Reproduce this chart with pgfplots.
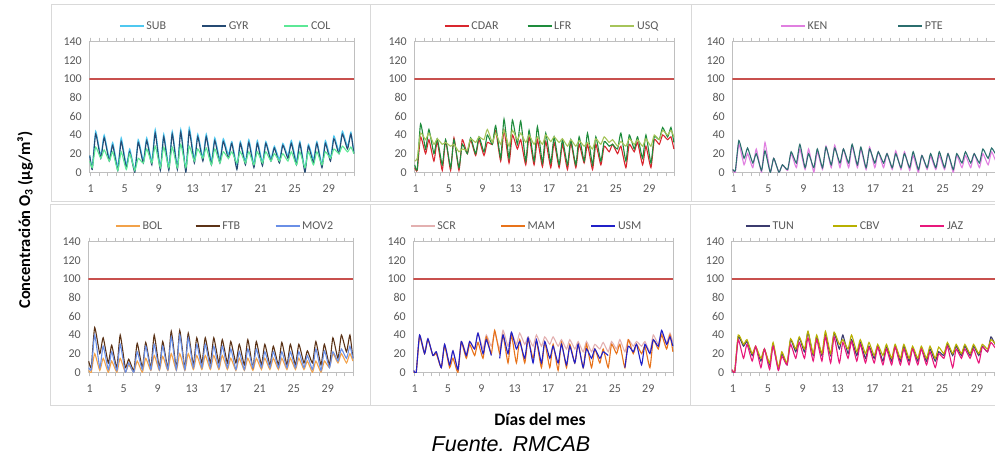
\documentclass[border=0pt]{standalone}
\usepackage{fontspec}
\setmainfont{Carlito}
\newfontfamily\arialfont{Liberation Sans}
\usepackage{pgfplots}
\pgfplotsset{compat=1.18}
\usepackage{pgfplotstable}

\definecolor{cSUB}{HTML}{4FC8F0}
\definecolor{cGYR}{HTML}{254A73}
\definecolor{cCOL}{HTML}{5CE896}
\definecolor{cCDAR}{HTML}{D9262E}
\definecolor{cLFR}{HTML}{1E8C3C}
\definecolor{cUSQ}{HTML}{A6C45A}
\definecolor{cKEN}{HTML}{E07FE0}
\definecolor{cPTE}{HTML}{2B6E6E}
\definecolor{cBOL}{HTML}{F2A24A}
\definecolor{cFTB}{HTML}{5C3317}
\definecolor{cMOV}{HTML}{6A8FE6}
\definecolor{cSCR}{HTML}{E3B0B0}
\definecolor{cMAM}{HTML}{E8731A}
\definecolor{cUSM}{HTML}{2020C8}
\definecolor{cTUN}{HTML}{3B3B6E}
\definecolor{cCBV}{HTML}{B8B000}
\definecolor{cJAZ}{HTML}{E8187C}
\definecolor{limitc}{HTML}{C8504D}
\definecolor{axgrey}{HTML}{BFBFBF}
\definecolor{boxgrey}{HTML}{D9D9D9}
\definecolor{txtgrey}{HTML}{595959}

\pgfplotstableread{
x a b c
0.9 18 18 12
1.2 6 3 5
1.6 44 41 27
2.2 18 15 15
2.6 40 37 24
3.2 15 12 12
3.6 32 29 22
4.2 6 2 2
4.6 37 33 22
5.2 8 5 3
5.6 25 22 20
6.2 3 0 2
6.6 35 32 15
7.2 13 10 10
7.6 37 34 25
8.2 12 8 10
8.6 46 42 28
9.2 6 2 5
9.6 41 38 27
10.2 6 2 5
10.6 44 41 27
11.2 7 3 5
11.6 46 43 30
12.2 4 0 5
12.6 48 44 28
13.2 14 10 12
13.6 41 38 25
14.2 16 12 15
14.6 41 38 26
15.2 12 8 8
15.6 37 34 25
16.2 14 10 10
16.6 36 33 22
17.2 19 15 15
17.6 33 31 22
18.2 8 3 10
18.6 33 31 22
19.2 12 8 10
19.6 35 32 22
20.2 9 5 8
20.6 34 31 22
21.2 11 7 10
21.6 33 31 22
22.2 15 12 12
22.6 28 26 20
23.2 14 10 12
23.6 31 29 20
24.2 18 15 12
24.6 34 31 22
25.2 12 8 8
25.6 33 31 22
26.2 4 0 5
26.6 30 28 22
27.2 14 10 8
27.6 33 31 22
28.2 9 5 8
28.6 34 31 22
29.2 16 12 15
29.6 39 36 25
30.2 23 20 20
30.6 44 41 28
31.2 28 25 22
31.6 43 41 27
31.95 22 20 20
}\tabA

\pgfplotstableread{
x a b c
0.9 5 8 12
1.2 2 3 15
1.6 38 52 42
2.2 20 25 35
2.6 35 46 42
3.2 12 20 30
3.6 33 36 36
4.2 2 8 30
4.6 34 35 32
5.2 2 5 28
5.6 37 35 30
6.2 2 5 22
6.6 35 30 25
7.2 20 20 24
7.6 35 37 36
8.2 18 20 32
8.6 35 38 38
9.2 18 22 35
9.6 32 40 46
10.2 30 30 32
10.6 45 50 42
11.2 12 15 30
11.6 45 57 45
12.2 10 15 28
12.6 40 56 45
13.2 25 30 35
13.6 35 55 42
14.2 8 12 32
14.6 38 45 40
15.2 8 12 30
15.6 35 49 38
16.2 6 10 30
16.6 33 42 40
17.2 5 10 33
17.6 32 38 38
18.2 5 8 32
18.6 30 35 36
19.2 3 8 28
19.6 32 35 35
20.2 5 8 28
20.6 30 38 34
21.2 10 12 28
21.6 30 42 32
22.2 3 8 25
22.6 30 38 36
23.2 8 12 30
23.6 28 33 38
24.2 22 28 32
24.6 30 30 35
25.2 20 25 28
25.6 28 42 33
26.2 5 12 28
26.6 30 40 36
27.2 22 25 30
27.6 32 38 35
28.2 8 15 28
28.6 28 40 36
29.2 5 10 28
29.6 35 38 40
30.2 30 35 35
30.6 40 48 45
31.2 35 38 40
31.6 38 48 45
31.95 25 32 38
}\tabB

\pgfplotstableread{
x a b
0.9 3 3
1.2 0 2
1.6 30 34
2.2 8 15
2.6 20 26
3.2 5 10
3.6 25 20
4.2 0 2
4.6 32 23
5.2 0 0
5.6 15 15
6.2 0 0
6.6 8 8
7.2 2 3
7.6 20 22
8.2 5 10
8.6 25 30
9.2 3 5
9.6 25 20
10.2 0 5
10.6 22 25
11.2 3 5
11.6 28 27
12.2 5 8
12.6 29 26
13.2 5 10
13.6 25 25
14.2 5 10
14.6 28 30
15.2 5 8
15.6 25 27
16.2 3 5
16.6 27 25
17.2 5 10
17.6 22 22
18.2 5 10
18.6 20 20
19.2 3 5
19.6 23 20
20.2 3 5
20.6 22 20
21.2 2 5
21.6 18 22
22.2 0 3
22.6 18 18
23.2 3 5
23.6 17 20
24.2 3 5
24.6 18 22
25.2 3 5
25.6 20 20
26.2 0 3
26.6 18 20
27.2 5 10
27.6 18 22
28.2 5 10
28.6 20 20
29.2 5 10
29.6 20 25
30.2 8 15
30.6 22 26
31.2 10 18
31.6 25 27
31.95 12 20
}\tabC

\pgfplotstableread{
x a b c
0.9 2 12 5
1.2 0 5 3
1.6 20 48 40
2.2 2 20 5
2.6 15 37 28
3.2 0 10 3
3.6 12 29 22
4.2 0 5 2
4.6 15 40 30
5.2 0 5 0
5.6 8 14 10
6.2 0 2 0
6.6 12 31 22
7.2 0 5 3
7.6 15 32 28
8.2 2 5 3
8.6 18 40 30
9.2 2 5 3
9.6 17 33 28
10.2 2 5 3
10.6 20 44 38
11.2 2 5 3
11.6 20 45 40
12.2 2 5 3
12.6 20 42 37
13.2 3 8 5
13.6 18 37 30
14.2 3 10 5
14.6 18 37 30
15.2 3 10 5
15.6 18 37 28
16.2 3 10 5
16.6 18 35 28
17.2 3 10 5
17.6 15 33 25
18.2 2 10 3
18.6 15 30 22
19.2 2 8 3
19.6 15 35 25
20.2 2 5 5
20.6 15 33 25
21.2 3 8 5
21.6 15 30 22
22.2 3 8 5
22.6 15 28 22
23.2 3 8 5
23.6 15 32 22
24.2 3 8 5
24.6 15 30 22
25.2 3 8 5
25.6 15 30 22
26.2 3 10 5
26.6 12 23 18
27.2 0 10 3
27.6 12 33 25
28.2 0 8 2
28.6 12 30 23
29.2 5 8 5
29.6 20 37 22
30.2 10 15 12
30.6 20 40 25
31.2 10 22 15
31.6 20 40 28
31.95 12 15 15
}\tabD

\pgfplotstableread{
x a b c
0.9 2 0 2
1.2 0 0 0
1.6 40 38 40
2.2 22 20 20
2.6 36 35 36
3.2 18 18 18
3.6 22 20 22
4.2 5 5 5
4.6 30 28 30
5.2 8 5 8
5.6 23 15 23
6.2 3 0 3
6.6 33 32 33
7.2 20 15 18
7.6 33 30 33
8.2 25 18 25
8.6 42 32 42
9.2 25 15 20
9.6 40 38 35
10.2 28 20 18
10.6 42 45 nan
11.2 25 20 15
11.6 45 40 40
12.2 28 10 20
12.6 42 40 43
13.2 30 10 25
13.6 42 35 33
14.2 30 10 15
14.6 38 35 37
15.2 28 15 10
15.6 40 33 35
16.2 28 5 10
16.6 38 32 33
17.2 30 5 15
17.6 38 30 28
18.2 28 2 10
18.6 35 32 30
19.2 25 5 8
19.6 35 30 28
20.2 25 10 10
20.6 33 30 30
21.2 22 5 5
21.6 33 30 25
22.2 22 5 15
22.6 30 25 25
23.2 25 10 15
23.6 32 25 22
24.2 22 5 18
24.6 33 30 nan
25.2 25 20 nan
25.6 35 30 nan
26.2 22 5 5
26.6 35 35 28
27.2 28 20 22
27.6 33 30 30
28.2 28 20 8
28.6 33 28 30
29.2 22 5 20
29.6 40 35 35
30.2 30 25 28
30.6 42 40 45
31.2 32 25 30
31.6 42 40 38
31.95 32 22 28
}\tabE

\pgfplotstableread{
x a b c
0.9 2 2 3
1.2 0 2 0
1.6 38 40 35
2.2 28 30 15
2.6 33 35 30
3.2 18 20 12
3.6 27 28 28
4.2 12 15 5
4.6 25 25 25
5.2 8 10 3
5.6 30 32 28
6.2 3 5 2
6.6 20 22 17
7.2 8 10 8
7.6 35 36 30
8.2 22 25 15
8.6 37 38 32
9.2 22 25 15
9.6 43 44 37
10.2 18 20 12
10.6 38 40 35
11.2 18 20 12
11.6 40 44 38
12.2 18 20 10
12.6 42 43 38
13.2 25 30 10
13.6 40 35 32
14.2 20 25 15
14.6 35 40 33
15.2 18 22 12
15.6 32 35 30
16.2 15 20 10
16.6 28 32 27
17.2 15 18 10
17.6 28 30 27
18.2 12 18 8
18.6 27 30 25
19.2 12 15 8
19.6 28 30 27
20.2 12 15 8
20.6 28 30 25
21.2 12 15 8
21.6 26 28 25
22.2 12 15 8
22.6 25 28 25
23.2 12 15 8
23.6 25 28 22
24.2 12 15 5
24.6 22 27 20
25.2 18 20 15
25.6 30 32 28
26.2 18 20 5
26.6 28 30 25
27.2 18 20 15
27.6 28 30 25
28.2 18 20 15
28.6 28 30 25
29.2 18 20 10
29.6 28 30 27
30.2 22 25 22
30.6 38 35 32
31.2 28 30 25
31.6 35 35 32
31.95 25 28 22
}\tabF

\pgfplotsset{
  legend image code/.code={\draw[#1,line width=1.3pt] (0pt,0pt) -- (24pt,0pt);},
  panel/.style={
    scale only axis, height=130.6pt,
    xmin=0.85, xmax=32, ymin=0, ymax=140,
    ytick={0,20,...,140},
    xtick={1,5,...,29},
    minor xtick={1,...,32},
    tick align=outside,
    major tick length=4pt, minor tick length=4pt,
    every tick/.style={axgrey, line width=0.8pt},
    ytick style={draw=none},
    axis line style={axgrey, line width=0.8pt},
    ticklabel style={font=\fontsize{12}{14}\selectfont, text=txtgrey},
    xticklabel style={yshift=-5pt},
    /pgf/number format/assume math mode=true,
    unbounded coords=jump,
    legend columns=3,
    legend style={draw=none, fill=none, anchor=west, inner sep=0pt,
      nodes={inner sep=0pt},
      font=\fontsize{12}{14}\selectfont, text=txtgrey,
      /tikz/every odd column/.append style={column sep=2pt}},
    every axis plot/.append style={line width=1.1pt, smooth, tension=0.3},
  },
  lgd/.style 2 args={legend style={at={(#1,1.12)},
      /tikz/every even column/.append style={column sep=#2}}},
}
\newcommand{\lent}[1]{\addlegendentry{\makebox[46pt][l]{#1}}}
\newcommand{\limitline}{\addplot[color=limitc, draw=limitc, line width=1.2pt, sharp plot, forget plot] coordinates {(0.85,100) (32,100)};}

\begin{document}
\begin{tikzpicture}
\useasboundingbox (0pt,0pt) rectangle (995pt,461pt);
% panel frames
\draw[boxgrey, line width=1pt] (51pt,259pt) rectangle (370pt,456pt);
\draw[boxgrey, line width=1pt] (370pt,259pt) rectangle (691pt,456pt);
\draw[boxgrey, line width=1pt] (691pt,259pt) rectangle (1005pt,456pt);
\draw[boxgrey, line width=1pt] (50pt,56pt) rectangle (370pt,256pt);
\draw[boxgrey, line width=1pt] (370pt,56pt) rectangle (690pt,256pt);
\draw[boxgrey, line width=1pt] (690pt,56pt) rectangle (1005pt,256pt);

\begin{axis}[panel, lgd={0.112}{9pt}, at={(89.3pt,288.7pt)}, anchor=south west, width=265pt]
\limitline
\addplot[cSUB] table[x=x,y=a] {\tabA}; \lent{SUB}
\addplot[cGYR] table[x=x,y=b] {\tabA}; \lent{GYR}
\addplot[cCOL] table[x=x,y=c] {\tabA}; \lent{COL}
\end{axis}

\begin{axis}[panel, lgd={0.114}{9.5pt}, at={(414.3pt,288.7pt)}, anchor=south west, width=260pt]
\limitline
\addplot[cCDAR] table[x=x,y=a] {\tabB}; \lent{CDAR}
\addplot[cLFR] table[x=x,y=b] {\tabB}; \lent{LFR}
\addplot[cUSQ] table[x=x,y=c] {\tabB}; \lent{USQ}
\end{axis}

\begin{axis}[panel, lgd={0.176}{44pt}, at={(732.3pt,288.7pt)}, anchor=south west, width=271.5pt]
\limitline
\addplot[cKEN] table[x=x,y=a] {\tabC}; \lent{KEN}
\addplot[cPTE] table[x=x,y=b] {\tabC}; \lent{PTE}
\end{axis}

\begin{axis}[panel, lgd={0.101}{6.5pt}, at={(88.3pt,88.7pt)}, anchor=south west, width=265pt]
\limitline
\addplot[cBOL] table[x=x,y=a] {\tabD}; \lent{BOL}
\addplot[cFTB] table[x=x,y=b] {\tabD}; \lent{FTB}
\addplot[cMOV] table[x=x,y=c] {\tabD}; \lent{MOV2}
\end{axis}

\begin{axis}[panel, lgd={-0.013}{17pt}, at={(413.3pt,88.7pt)}, anchor=south west, width=260pt]
\limitline
\addplot[cSCR] table[x=x,y=a] {\tabE}; \lent{SCR}
\addplot[cMAM] table[x=x,y=b] {\tabE}; \lent{MAM}
\addplot[cUSM] table[x=x,y=c] {\tabE}; \lent{USM}
\end{axis}

\begin{axis}[panel, lgd={0.049}{14pt}, at={(731.7pt,88.7pt)}, anchor=south west, width=271.5pt]
\limitline
\addplot[cTUN] table[x=x,y=a] {\tabF}; \lent{TUN}
\addplot[cCBV] table[x=x,y=b] {\tabF}; \lent{CBV}
\addplot[cJAZ] table[x=x,y=c] {\tabF}; \lent{JAZ}
\end{axis}

\node[rotate=90, font=\bfseries\fontsize{16.5}{18}\selectfont] at (25pt,241pt) {Concentración O\textsubscript{3} (µg/m³)};
\node[font=\bfseries\fontsize{17.5}{19}\selectfont] at (540pt,42pt) {Días del mes};
\node[font=\arialfont\itshape\fontsize{21.5}{23}\selectfont] at (511pt,17pt) {Fuente. RMCAB};
\end{tikzpicture}
\end{document}
